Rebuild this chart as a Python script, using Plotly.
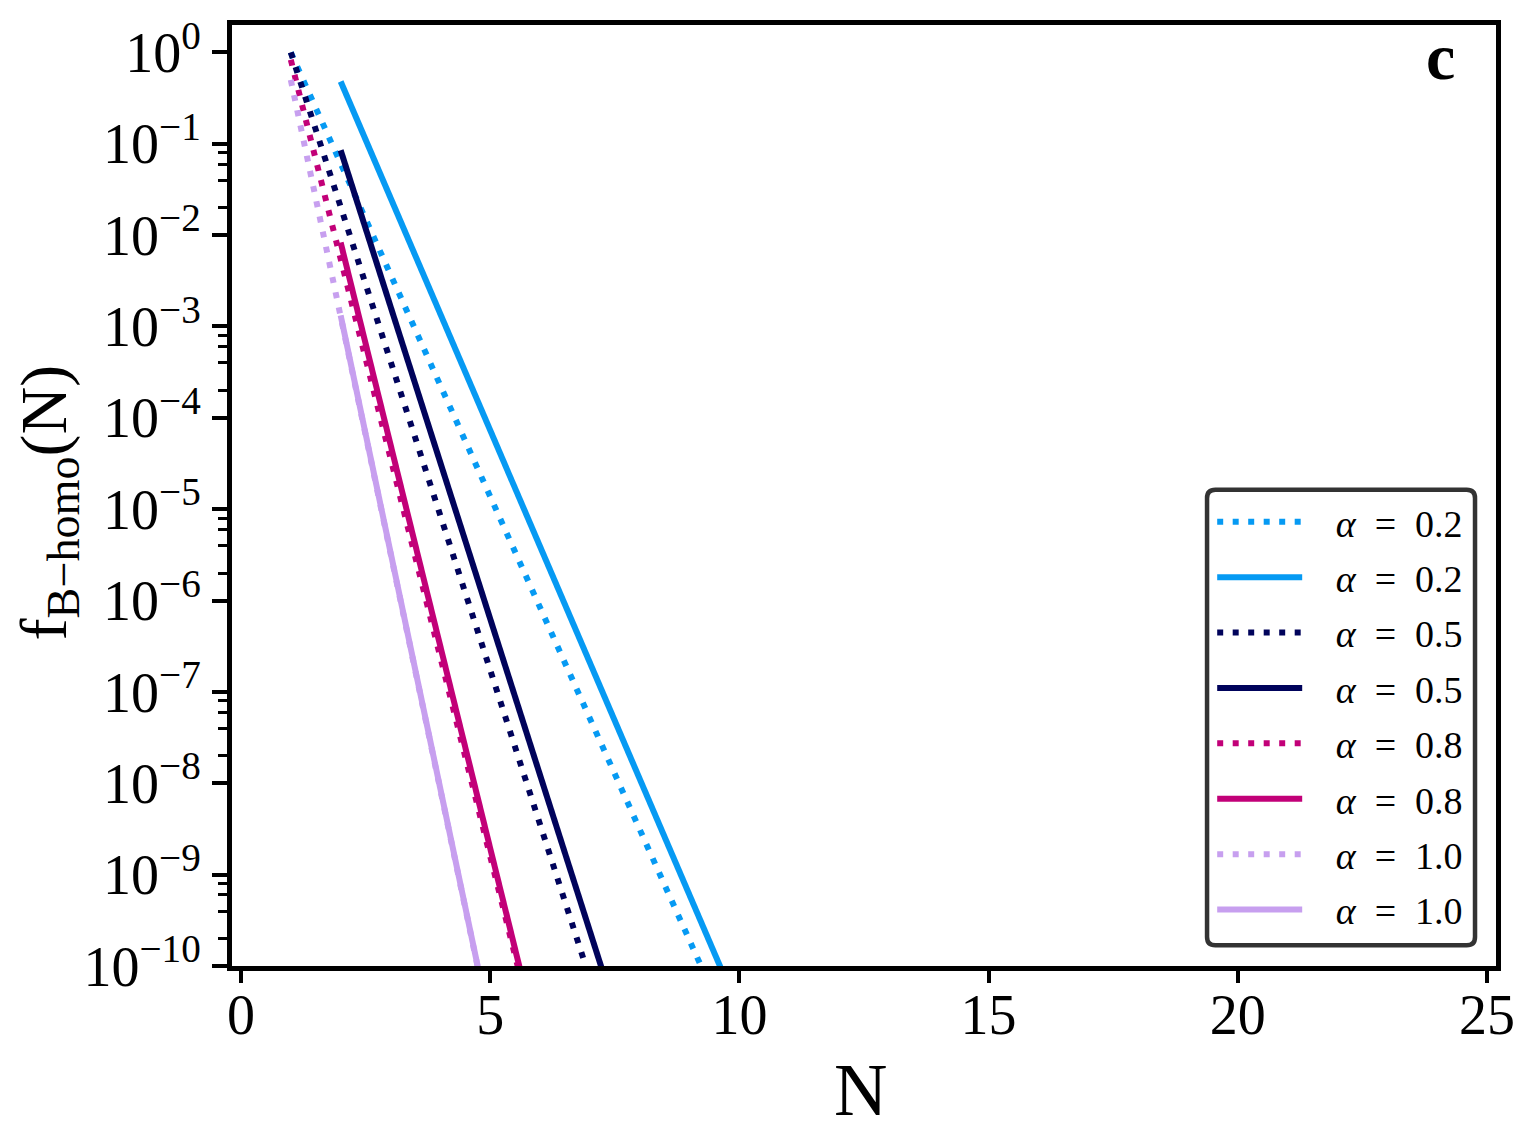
import plotly.graph_objects as go

# ---------------- data ----------------
N_from1 = [1, 2, 3, 4, 5, 6, 7, 8, 9, 10]
N_from2 = [2, 3, 4, 5, 6, 7, 8, 9, 10]

a02_dot = [1.0, 6.1e-2, 3.7e-3, 2.26e-4, 1.38e-5, 8.4e-7, 5.1e-8, 3.1e-9, 1.9e-10, 1.16e-11]
a02_sol = [0.48, 2.56e-2, 1.37e-3, 7.3e-5, 3.9e-6, 2.09e-7, 1.12e-8, 5.97e-10, 3.19e-11]
a05_dot = [1.0, 2.04e-2, 4.17e-4, 8.5e-6, 1.74e-7, 3.55e-9, 7.2e-11, 1.48e-12]
a05_sol = [8.5e-2, 1.66e-3, 3.24e-5, 6.3e-7, 1.23e-8, 2.40e-10, 4.7e-12]
a08_dot = [0.83, 5.5e-3, 3.63e-5, 2.40e-7, 1.58e-9, 1.05e-11]
a08_sol = [8.3e-3, 5.1e-5, 3.16e-7, 1.95e-9, 1.2e-11]
a10_dot = [0.50, 1.29e-3, 3.3e-6, 8.5e-9, 2.19e-11]
a10_sol = [1.32e-3, 3.39e-6, 8.7e-9, 2.24e-11]

alphas = ["0.2", "0.2", "0.5", "0.5", "0.8", "0.8", "1.0", "1.0"]

x_ticks = [0, 5, 10, 15, 20, 25]
y_major_exp = [0, -1, -2, -3, -4, -5, -6, -7, -8, -9, -10]
y_minor = [m * 10.0 ** e for e in (-2, -4, -6, -8, -10) for m in (2, 4, 6, 8)]

# ---------------- style ----------------
C_AZURE = "#069af3"
C_NAVY = "#00035b"
C_MAGENTA = "#c20078"
C_LAVENDER = "#c79fef"
LW = 6
DOT = "6px,9.5px"
FONT = "Liberation Serif"

series = [
    (N_from1, a02_dot, C_AZURE, DOT),
    (N_from2, a02_sol, C_AZURE, "solid"),
    (N_from1, a05_dot, C_NAVY, DOT),
    (N_from2, a05_sol, C_NAVY, "solid"),
    (N_from1, a08_dot, C_MAGENTA, DOT),
    (N_from2, a08_sol, C_MAGENTA, "solid"),
    (N_from1, a10_dot, C_LAVENDER, DOT),
    (N_from2, a10_sol, C_LAVENDER, "solid"),
]

NB = "\u00a0"
fig = go.Figure()
for i, ((xs, ys, col, dash), a) in enumerate(zip(series, alphas)):
    fig.add_trace(go.Scatter(
        x=xs[:len(ys)], y=ys, mode="lines",
        name=f"{NB*3}<i>α</i>{NB}{NB}={NB}{NB}{a}",
        legendgroup=f"g{i}",
        line=dict(color=col, width=LW, dash=dash),
    ))

def sup(e):
    s = str(e).replace("-", "\u2212")
    return f"10<sup>{s}</sup>"

# page body has an 8px margin: shrink the figure to compensate
fig.update_layout(
    width=1519, height=1135,
    margin=dict(l=224, r=31, t=6, b=177),
    plot_bgcolor="white", paper_bgcolor="white",
    font=dict(family=FONT, color="black"),
    showlegend=True,
    legend=dict(
        x=0.978, y=0.026, xanchor="right", yanchor="bottom",
        bgcolor="rgba(0,0,0,0)", borderwidth=0,
        font=dict(family=FONT, size=38, color="black"),
        itemwidth=85, tracegroupgap=3, traceorder="grouped",
    ),
)

# rounded legend frame (paper coordinates of the plot area)
x0, x1, y0, y1 = 0.7714, 0.9834, 0.0221, 0.5060
rx, ry = 0.0066, 0.0088
frame = (f"M {x0+rx},{y0} L {x1-rx},{y0} Q {x1},{y0} {x1},{y0+ry} "
         f"L {x1},{y1-ry} Q {x1},{y1} {x1-rx},{y1} "
         f"L {x0+rx},{y1} Q {x0},{y1} {x0},{y1-ry} "
         f"L {x0},{y0+ry} Q {x0},{y0} {x0+rx},{y0} Z")
fig.add_shape(type="path", path=frame, xref="paper", yref="paper",
              fillcolor="white", line=dict(color="#333333", width=4.5),
              layer="above")

fig.update_xaxes(
    range=[-0.18, 25.18],
    tickmode="array", tickvals=x_ticks, ticktext=[str(v) for v in x_ticks],
    ticks="outside", ticklen=12, tickwidth=4, tickcolor="black",
    tickfont=dict(family=FONT, size=56, color="black"),
    ticklabelstandoff=-16, ticklabeloverflow="allow",
    showline=True, linewidth=5, linecolor="black", mirror=True,
    showgrid=False, zeroline=False,
)

fig.update_yaxes(
    type="log", range=[-10, 0.3],
    tickmode="array",
    tickvals=[10.0 ** e for e in y_major_exp],
    ticktext=[sup(e) for e in y_major_exp],
    ticks="outside", ticklen=15, tickwidth=4, tickcolor="black",
    tickfont=dict(family=FONT, size=56, color="black"),
    ticklabeloverflow="allow",
    minor=dict(tickmode="array", tickvals=y_minor, ticks="outside",
               ticklen=9, tickwidth=2.5, tickcolor="black", showgrid=False),
    showline=True, linewidth=5, linecolor="black", mirror=True,
    showgrid=False, zeroline=False,
)

fig.add_annotation(
    text="f<sub>B\u2212homo</sub>(N)", textangle=-90,
    xref="paper", yref="paper", x=0, y=0.4926, xanchor="center", yanchor="middle",
    xshift=-184, showarrow=False, font=dict(family=FONT, size=66, color="black"),
)
fig.add_annotation(
    text="N", xref="paper", yref="paper", x=0.497, y=0, xanchor="center",
    yanchor="middle", yshift=-124, showarrow=False,
    font=dict(family=FONT, size=74, color="black"),
)
fig.add_annotation(
    text="<b>c</b>", xref="paper", yref="paper", x=0.956, y=0.967,
    xanchor="center", yanchor="middle", showarrow=False,
    font=dict(family=FONT, size=66, color="black"),
)

fig.write_html("out.html")
